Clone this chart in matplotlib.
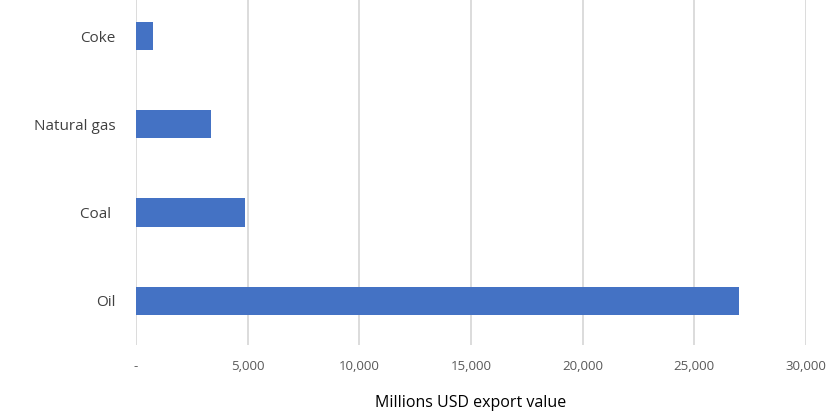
import matplotlib.pyplot as plt
import numpy as np

# export values, millions USD
fuels = ['Oil', 'Coal ', 'Natural gas', 'Coke']
values = [27000, 4900, 3370, 740]
xticks = [0, 5000, 10000, 15000, 20000, 25000, 30000]
xtick_labels = ['-', '5,000', '10,000', '15,000', '20,000', '25,000', '30,000']

plt.rcParams['font.family'] = ['Open Sans', 'DejaVu Sans']

fig = plt.figure(figsize=(8.4, 4.19), dpi=100)
ax = fig.add_axes([0.162, 0.177, 0.7975, 0.823])

y = np.arange(len(fuels))
ax.barh(y, values, height=0.32, color='#4472C4', zorder=3)

ax.set_xlim(0, 30000)
ax.set_ylim(-0.5, 3.41)
ax.set_xticks(xticks)
ax.set_xticklabels(xtick_labels, color='#595959', fontsize=9.5)
ax.set_yticks(y)
ax.set_yticklabels(fuels, color='#404040', fontsize=11)
ax.tick_params(axis='both', length=0)
ax.tick_params(axis='x', pad=11)
ax.tick_params(axis='y', pad=15)

ax.grid(axis='x', color='#d9d9d9', linewidth=1.3, zorder=0)
for s in ax.spines.values():
    s.set_visible(False)

ax.set_xlabel('Millions USD export value', fontsize=11.5, color='black', labelpad=16)

plt.savefig('out.png', dpi=100)
